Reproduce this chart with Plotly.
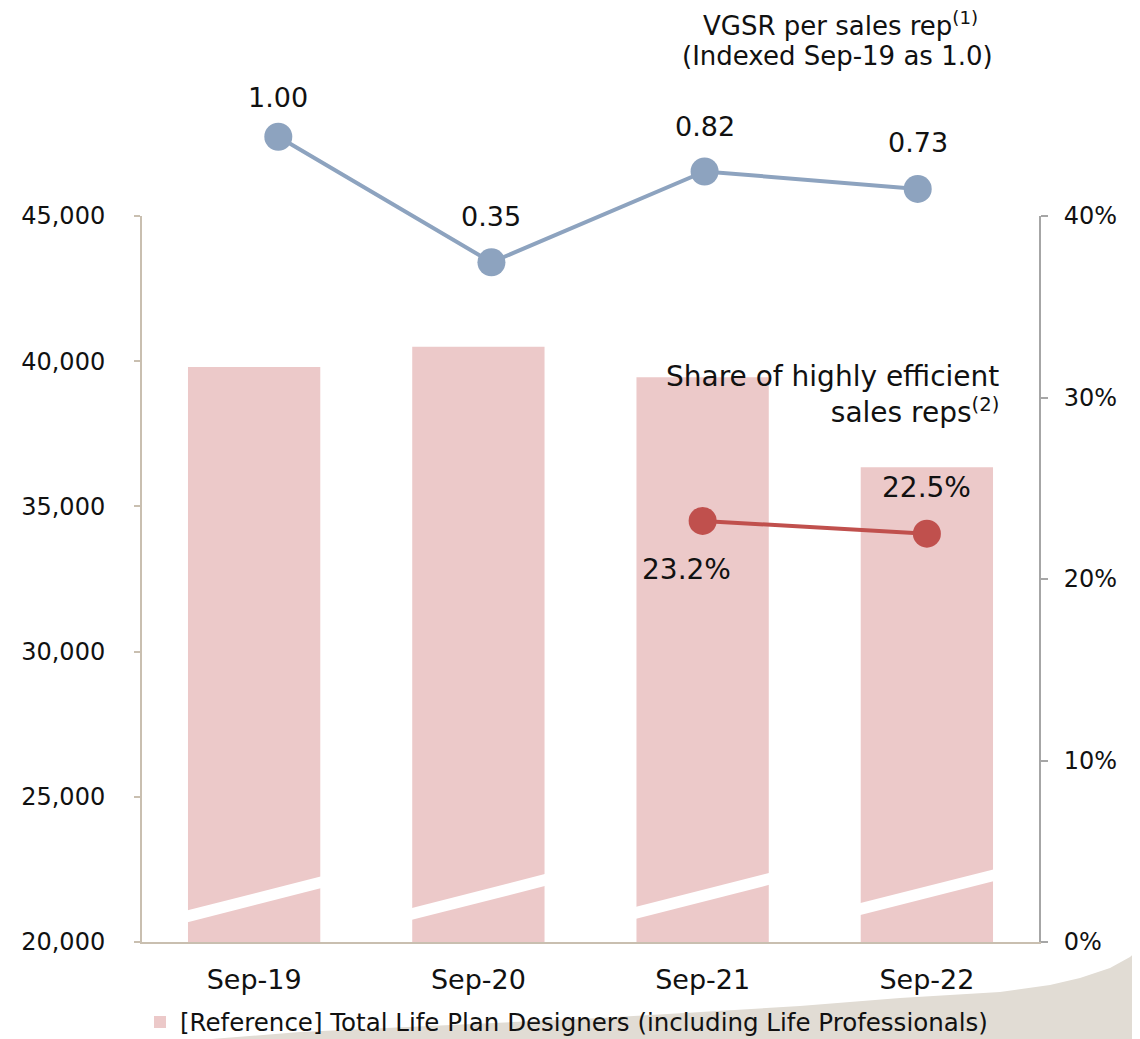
import plotly.graph_objects as go

# ---------------- data ----------------
categories = ["Sep-19", "Sep-20", "Sep-21", "Sep-22"]
lpd_total = [39800, 40500, 39450, 36350]          # left axis (bars)
vgsr_index = [1.00, 0.35, 0.82, 0.73]             # indexed Sep-19 = 1.0
share_cats = ["Sep-21", "Sep-22"]
share_high = [0.232, 0.225]                        # right axis
left_ticks = [20000, 25000, 30000, 35000, 40000, 45000]
right_ticks = [0.0, 0.1, 0.2, 0.3, 0.4]

# ---------------- style ----------------
FONT = "DejaVu Sans"
TXT = "#111111"
BAR_COLOR = "#ECC9C9"
BLUE = "#8DA3BF"
RED = "#C0504D"
BEIGE = "#C9BFB0"
GREY = "#A6A6A6"
BAR_WIDTH = 0.59
# axis-break stripe (left/right centre, in axis units) per bar
BREAK_LEFT = [20870, 20950, 20990, 21120]
BREAK_RIGHT = [22070, 22150, 22190, 22310]
BREAK_HALF = 205

W, H = 1140, 1039
OFF = 8  # page body offset
ML, MR, MT, MB = 134, 109, 2, 105
PW, PH = W - ML - MR, H - MT - MB


def px(xs):
    return (xs - OFF - ML) / PW


def py(ys):
    return (H - MB - (ys - OFF)) / PH


main_top = py(216)

fig = go.Figure()

fig.add_trace(go.Bar(
    x=categories, y=lpd_total, width=BAR_WIDTH,
    marker=dict(color=BAR_COLOR, line=dict(width=0)),
    name="[Reference] Total Life Plan Designers (including Life Professionals)",
    xaxis="x", yaxis="y", showlegend=True,
))

fig.add_trace(go.Scatter(
    x=share_cats, y=share_high, mode="lines+markers",
    line=dict(color=RED, width=4),
    marker=dict(color=RED, size=28),
    xaxis="x", yaxis="y2", showlegend=False, cliponaxis=False,
))

fig.add_trace(go.Scatter(
    x=categories, y=vgsr_index, mode="lines+markers",
    line=dict(color=BLUE, width=4),
    marker=dict(color=BLUE, size=28),
    xaxis="x2", yaxis="y3", showlegend=False, cliponaxis=False,
))

annotations = []
blue_shift = [39, 46, 45, 46]
for c, v, s in zip(categories, vgsr_index, blue_shift):
    annotations.append(dict(
        x=c, y=v, xref="x2", yref="y3", text=f"{v:.2f}", showarrow=False,
        yshift=s, font=dict(family=FONT, size=27, color=TXT),
    ))
red_shift = [(-16, -49), (0, 46)]
for c, v, (sx, sy) in zip(share_cats, share_high, red_shift):
    annotations.append(dict(
        x=c, y=v, xref="x", yref="y2", text=f"{v*100:.1f}%", showarrow=False,
        xshift=sx, yshift=sy, font=dict(family=FONT, size=28, color=TXT),
    ))
annotations.append(dict(
    x=px(840), y=py(24), xref="paper", yref="paper", xanchor="center", yanchor="middle",
    text="VGSR per sales rep<sup>(1)</sup>", align="center",
    showarrow=False, font=dict(family=FONT, size=26, color=TXT),
))
annotations.append(dict(
    x=px(837), y=py(56), xref="paper", yref="paper", xanchor="center", yanchor="middle",
    text="(Indexed Sep-19 as 1.0)", align="center",
    showarrow=False, font=dict(family=FONT, size=26, color=TXT),
))
annotations.append(dict(
    x=px(1001), y=py(395), xref="paper", yref="paper", xanchor="right", yanchor="middle",
    text="Share of highly efficient<br>sales reps<sup>(2)</sup>", align="right",
    showarrow=False, font=dict(family=FONT, size=28, color=TXT),
))

shapes = []
for i in range(len(categories)):
    xl = i - BAR_WIDTH / 2 - 0.01
    xr = i + BAR_WIDTH / 2 + 0.01
    yl, yr = BREAK_LEFT[i], BREAK_RIGHT[i]
    path = (f"M{xl},{yl + BREAK_HALF} L{xr},{yr + BREAK_HALF} "
            f"L{xr},{yr - BREAK_HALF} L{xl},{yl - BREAK_HALF} Z")
    shapes.append(dict(type="path", path=path, xref="x", yref="y",
                       fillcolor="white", line=dict(width=0), layer="above"))

# decorative swoosh at bottom right (screen px)
sw = [(110, 1047), (300, 1032), (600, 1018), (800, 1006), (900, 998), (1000, 992),
      (1050, 985), (1080, 978), (1110, 968), (1130, 957), (1150, 940), (1160, 930),
      (1160, 1047)]
sw_path = "M" + " L".join(f"{px(a)},{py(b)}" for a, b in sw) + " Z"
shapes.append(dict(type="path", path=sw_path, xref="paper", yref="paper",
                   fillcolor="#E1DCD4", line=dict(width=0), layer="below"))

fig.update_layout(
    width=W, height=H,
    margin=dict(l=ML, r=MR, t=MT, b=MB, pad=0, autoexpand=False),
    paper_bgcolor="white", plot_bgcolor="rgba(0,0,0,0)",
    font=dict(family=FONT, color=TXT),
    xaxis=dict(
        domain=[0, 1], anchor="y", type="category",
        showline=True, linecolor=BEIGE, linewidth=2, ticks="",
        tickfont=dict(family=FONT, size=27, color=TXT),
        ticklabelstandoff=13, showgrid=False, zeroline=False,
    ),
    yaxis=dict(
        domain=[0, main_top], anchor="x", range=[20000, 45000],
        tickvals=left_ticks, tickformat=",", showline=True, linecolor=BEIGE,
        linewidth=2, ticks="outside", ticklen=6, tickcolor=BEIGE, tickwidth=2,
        tickfont=dict(family=FONT, size=24, color=TXT),
        ticklabelstandoff=24, showgrid=False, zeroline=False,
    ),
    yaxis2=dict(
        overlaying="y", side="right", anchor="x", range=[0, 0.4],
        tickvals=right_ticks, tickformat=".0%", showline=True, linecolor=GREY,
        linewidth=2, ticks="outside", ticklen=7, tickcolor=GREY, tickwidth=2,
        tickfont=dict(family=FONT, size=24, color=TXT),
        ticklabelstandoff=11, showgrid=False, zeroline=False,
    ),
    xaxis2=dict(
        domain=[0, 1], anchor="y3", type="category", range=[-0.6395, 3.569],
        visible=False, showgrid=False, zeroline=False,
    ),
    yaxis3=dict(
        domain=[0, 1], anchor="x2", range=[-3.168, 1.656],
        visible=False, showgrid=False, zeroline=False,
    ),
    legend=dict(
        orientation="h", x=px(140), xanchor="left", y=py(1022), yanchor="middle",
        font=dict(family=FONT, size=24.5, color=TXT),
        bgcolor="rgba(0,0,0,0)", itemwidth=30,
    ),
    annotations=annotations,
    shapes=shapes,
)

fig.write_html("out.html")
